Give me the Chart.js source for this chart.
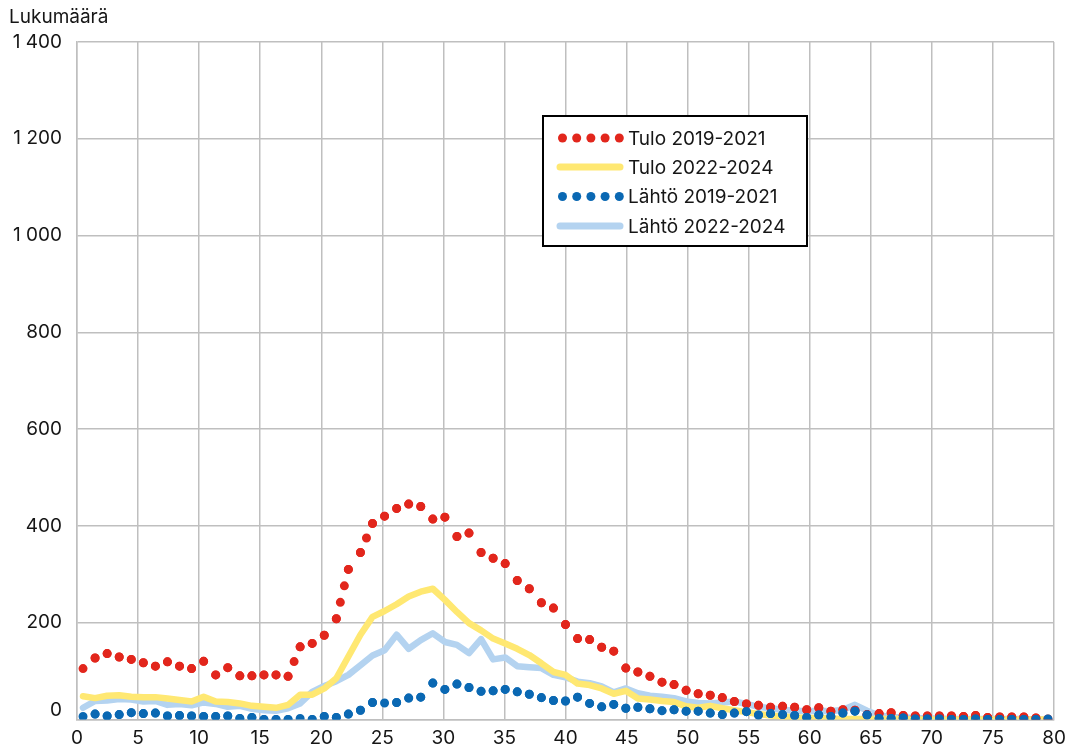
<!DOCTYPE html>
<html>
<head>
<meta charset="utf-8">
<script src="https://cdn.jsdelivr.net/npm/chart.js@4/dist/chart.umd.min.js"></script>
<style>
html, body { margin: 0; padding: 0; background: #ffffff; }
canvas { display: block; }
</style>
</head>
<body>
<canvas id="chart" width="1075" height="754"></canvas>
<script>
// ---- Data (ages 0..80) ----
const ages = [0,1,2,3,4,5,6,7,8,9,10,11,12,13,14,15,16,17,18,19,20,21,22,23,24,25,26,27,28,29,30,31,32,33,34,35,36,37,38,39,40,41,42,43,44,45,46,47,48,49,50,51,52,53,54,55,56,57,58,59,60,61,62,63,64,65,66,67,68,69,70,71,72,73,74,75,76,77,78,79,80];

const tulo2019 = [105,127,136,129,124,117,110,119,110,105,
                  120,92,107,90,90,92,92,89,150,157,
                  174,208,310,345,405,420,436,445,440,414,
                  418,378,385,345,333,322,287,270,241,230,
                  196,167,165,149,141,106,98,89,77,72,
                  60,53,50,45,37,32,29,25,27,25,
                  20,24,17,20,19,10,12,14,8,7,
                  7,7,7,6,8,4,5,5,5,3,1];

const tulo2022 = [48,44,49,50,47,46,46,43,40,37,
                  47,37,36,33,28,26,24,30,51,51,
                  64,85,130,175,212,224,238,254,264,270,
                  247,222,199,184,167,157,146,133,116,98,
                  92,74,71,64,53,59,43,41,38,36,
                  27,24,28,23,19,15,11,8,6,4,
                  3,3,2,1,1,1,1,1,1,0,
                  0,0,0,0,0,0,0,0,0,0,0];

const lahto2019 = [6,11,7,10,14,12,13,7,8,7,
                   6,6,7,2,4,0,0,0,2,0,
                   6,4,11,19,35,34,35,44,46,75,
                   62,73,66,58,59,62,57,52,45,39,
                   38,46,33,26,31,23,25,22,18,20,
                   17,17,13,10,13,16,9,12,10,8,
                   4,9,6,13,17,9,2,2,3,1,
                   1,1,0,0,1,0,0,0,0,0,1];

const lahto2022 = [24,38,39,42,41,37,38,30,32,29,
                   35,32,26,28,22,19,18,23,33,57,
                   69,79,92,112,132,143,175,146,164,178,
                   160,154,137,166,124,128,110,108,106,92,
                   87,78,75,68,56,64,54,49,47,44,
                   37,34,33,35,37,32,26,23,20,18,
                   17,18,17,20,30,18,8,5,4,3,
                   2,2,1,1,1,1,1,1,1,0,0];

const seriesLabels = ['Tulo 2019-2021', 'Tulo 2022-2024', 'Lähtö 2019-2021', 'Lähtö 2022-2024'];
const xTickValues = [0,5,10,15,20,25,30,35,40,45,50,55,60,65,70,75,80];
const yTickValues = [0,200,400,600,800,1000,1200,1400];
const yTitle = 'Lukumäärä';

// ---- Styles ----
const RED = '#E2261C';
const YELLOW = '#FFE872';
const BLUE = '#0A68B3';
const LIGHTBLUE = '#B4D3F0';
const GRID = '#bfbfbf';
const TEXT = '#161616';
const FAMILY = 'Inter, "Liberation Sans", Arial, sans-serif';
const FSIZE = 19;
const DOT_STEP = 16;

// Dotted line: dots restart at every data point, evenly spread along each segment
function dotDash(ctx) {
  const p0 = ctx.p0, p1 = ctx.p1;
  const L = Math.hypot(p1.x - p0.x, p1.y - p0.y);
  if (!isFinite(L) || L <= 0.5) return [0, 20];
  const n = Math.max(1, Math.round(L / DOT_STEP));
  return [0, L / n - 0.01];
}

function fmtY(v) {
  const s = String(v).replace(/\B(?=(\d{3})+(?!\d))/g, ' ');
  return v === 0 ? [s, ''] : s;
}

const titlePlugin = {
  id: 'yTitle',
  afterDraw(chart) {
    const c = chart.ctx;
    c.save();
    c.font = FSIZE + 'px ' + FAMILY;
    c.fillStyle = TEXT;
    c.textAlign = 'left';
    c.textBaseline = 'alphabetic';
    c.fillText(yTitle, 9, 23);
    c.restore();
  }
};

const legendPlugin = {
  id: 'boxLegend',
  afterDraw(chart) {
    const c = chart.ctx;
    const bx = 543, by = 116, bw = 264, bh = 130;
    c.save();
    c.fillStyle = '#ffffff';
    c.fillRect(bx, by, bw, bh);
    c.strokeStyle = '#000000';
    c.lineWidth = 2;
    c.strokeRect(bx, by, bw, bh);
    const rows = [138, 167, 196.5, 226];
    const sx0 = 557, sx1 = 623;
    chart.data.datasets.forEach((ds, i) => {
      const y = rows[i];
      if (ds.dotted) {
        c.fillStyle = ds.borderColor;
        for (let k = 0; k < 5; k++) {
          c.beginPath();
          c.arc(562.5 + k * 14.2, y, ds.borderWidth / 2, 0, Math.PI * 2);
          c.fill();
        }
      } else {
        c.strokeStyle = ds.borderColor;
        c.lineWidth = 7;
        c.lineCap = 'round';
        c.beginPath();
        c.moveTo(sx0 + 3, y);
        c.lineTo(sx1 - 3, y);
        c.stroke();
      }
      c.fillStyle = TEXT;
      c.font = FSIZE + 'px ' + FAMILY;
      c.textAlign = 'left';
      c.textBaseline = 'middle';
      c.fillText(ds.label, 628, y + 1);
    });
    c.restore();
  }
};

const dottedBase = {
  borderCapStyle: 'round',
  borderWidth: 9,
  pointRadius: 0,
  tension: 0,
  fill: false,
  dotted: true,
  segment: { borderDash: dotDash }
};
const solidBase = {
  borderCapStyle: 'round',
  borderJoinStyle: 'round',
  borderWidth: 6.5,
  pointRadius: 0,
  tension: 0,
  fill: false,
  dotted: false
};

new Chart(document.getElementById('chart'), {
  type: 'line',
  data: {
    labels: ages.map(String),
    datasets: [
      Object.assign({}, dottedBase, { label: seriesLabels[0], data: tulo2019, borderColor: RED, backgroundColor: RED, order: 1 }),
      Object.assign({}, solidBase, { label: seriesLabels[1], data: tulo2022, borderColor: YELLOW, backgroundColor: YELLOW, order: 2 }),
      Object.assign({}, dottedBase, { label: seriesLabels[2], data: lahto2019, borderColor: BLUE, backgroundColor: BLUE, order: 0 }),
      Object.assign({}, solidBase, { label: seriesLabels[3], data: lahto2022, borderColor: LIGHTBLUE, backgroundColor: LIGHTBLUE, order: 3 })
    ]
  },
  options: {
    responsive: false,
    animation: false,
    events: [],
    layout: { padding: { top: 42, right: 21, left: 0, bottom: 0 } },
    plugins: {
      legend: { display: false },
      tooltip: { enabled: false },
      title: { display: false }
    },
    scales: {
      x: { type: 'category', display: false, offset: true },
      xLin: {
        type: 'linear', position: 'bottom', min: 0, max: 80,
        afterBuildTicks: s => { s.ticks = xTickValues.map(v => ({ value: v })); },
        afterFit: s => { s.height = 34.6; },
        grid: { color: GRID, lineWidth: 1.5, drawTicks: false },
        border: { display: true, color: GRID, width: 1.5 },
        ticks: { font: { family: FAMILY, size: FSIZE }, color: TEXT, padding: 7, maxRotation: 0, autoSkip: false }
      },
      y: {
        type: 'linear', min: 0, max: 1400,
        afterBuildTicks: s => { s.ticks = yTickValues.map(v => ({ value: v })); },
        afterFit: s => { s.width = 77; },
        grid: { color: GRID, lineWidth: 1.5, drawTicks: false },
        border: { display: true, color: GRID, width: 1.5 },
        ticks: { font: { family: FAMILY, size: FSIZE, lineHeight: 1 }, color: TEXT, padding: 15, callback: v => fmtY(v) }
      }
    }
  },
  plugins: [titlePlugin, legendPlugin]
});
</script>
</body>
</html>
